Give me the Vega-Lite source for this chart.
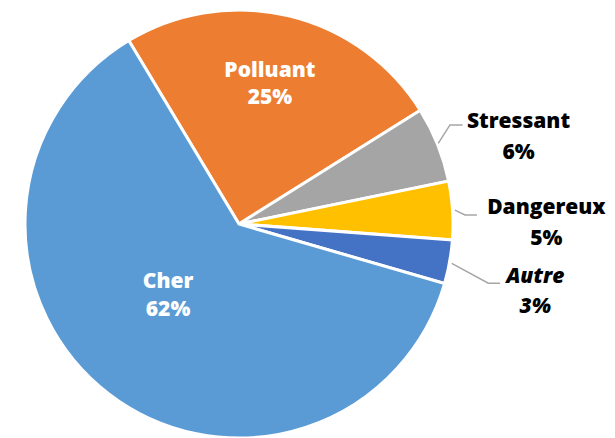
{
  "$schema": "https://vega.github.io/schema/vega-lite/v6.json",
  "autosize": {"type": "none"},
  "width": 428,
  "height": 428,
  "padding": {"left": 25, "top": 10, "right": 162, "bottom": 0},
  "background": "white",
  "config": {"view": {"stroke": null}, "text": {"font": "Open Sans"}},
  "datasets": {
    "slices": [
      {"cat": "Polluant", "label": "Polluant\n25%", "value": 24.7, "ord": 1},
      {"cat": "Stressant", "label": "Stressant\n6%", "value": 5.7, "ord": 2},
      {"cat": "Dangereux", "label": "Dangereux\n5%", "value": 4.4, "ord": 3},
      {"cat": "Autre", "label": "Autre\n3%", "value": 3.3, "ord": 4},
      {"cat": "Cher", "label": "Cher\n62%", "value": 61.9, "ord": 5}
    ],
    "leaders": [
      {"cat": "Stressant", "pt": 1, "x": 0.931, "y": 0.377},
      {"cat": "Stressant", "pt": 2, "x": 0.986, "y": 0.463},
      {"cat": "Stressant", "pt": 3, "x": 1.045, "y": 0.463},
      {"cat": "Dangereux", "pt": 1, "x": 1.009, "y": 0.065},
      {"cat": "Dangereux", "pt": 2, "x": 1.056, "y": 0.042},
      {"cat": "Dangereux", "pt": 3, "x": 1.112, "y": 0.042},
      {"cat": "Autre", "pt": 1, "x": 0.994, "y": -0.184},
      {"cat": "Autre", "pt": 2, "x": 1.165, "y": -0.277},
      {"cat": "Autre", "pt": 3, "x": 1.22, "y": -0.277}
    ]
  },
  "layer": [
    {
      "data": {"name": "slices"},
      "mark": {"type": "arc", "outerRadius": 214, "stroke": "white", "strokeWidth": 3},
      "encoding": {
        "theta": {"field": "value", "type": "quantitative", "stack": true, "scale": {"range": [-0.5411, 5.7421]}},
        "order": {"field": "ord", "type": "quantitative"},
        "color": {"field": "cat", "type": "nominal", "legend": null,
          "scale": {"domain": ["Polluant", "Stressant", "Dangereux", "Autre", "Cher"],
                    "range": ["#ED7D31", "#A5A5A5", "#FFC000", "#4472C4", "#5B9BD5"]}}
      }
    },
    {
      "data": {"name": "leaders"},
      "mark": {"type": "line", "color": "#A6A6A6", "strokeWidth": 1.5},
      "encoding": {
        "x": {"field": "x", "type": "quantitative", "scale": {"domain": [-1, 1]}, "axis": null},
        "y": {"field": "y", "type": "quantitative", "scale": {"domain": [-1, 1]}, "axis": null},
        "detail": {"field": "cat"},
        "order": {"field": "pt", "type": "quantitative"}
      }
    },
    {
      "data": {"name": "slices"},
      "mark": {"type": "text", "radius": 150, "dx": -4, "dy": -1, "fontSize": 21, "fontWeight": 800, "lineBreak": "\n", "lineHeight": 27, "fill": "white", "align": "center", "baseline": "alphabetic"},
      "encoding": {
        "theta": {"field": "value", "type": "quantitative", "stack": true},
        "order": {"field": "ord", "type": "quantitative"},
        "text": {"condition": {"test": "datum.cat === 'Polluant'", "field": "label"}, "value": ""}
      }
    },
    {
      "data": {"name": "slices"},
      "mark": {"type": "text", "radius": 95, "dx": -13, "dy": -11, "fontSize": 21, "fontWeight": 800, "lineBreak": "\n", "lineHeight": 28, "fill": "white", "align": "center", "baseline": "alphabetic"},
      "encoding": {
        "theta": {"field": "value", "type": "quantitative", "stack": true},
        "order": {"field": "ord", "type": "quantitative"},
        "text": {"condition": {"test": "datum.cat === 'Cher'", "field": "label"}, "value": ""}
      }
    },
    {
      "data": {"name": "slices"},
      "mark": {"type": "text", "radius": 300, "dx": 1, "dy": 16, "fontSize": 21, "fontWeight": 800, "lineBreak": "\n", "lineHeight": 31, "fill": "black", "align": "center", "baseline": "alphabetic"},
      "encoding": {
        "theta": {"field": "value", "type": "quantitative", "stack": true},
        "order": {"field": "ord", "type": "quantitative"},
        "text": {"condition": {"test": "datum.cat === 'Stressant'", "field": "label"}, "value": ""}
      }
    },
    {
      "data": {"name": "slices"},
      "mark": {"type": "text", "radius": 307, "dx": 1, "dy": 10, "fontSize": 21, "fontWeight": 800, "lineBreak": "\n", "lineHeight": 31, "fill": "black", "align": "center", "baseline": "alphabetic"},
      "encoding": {
        "theta": {"field": "value", "type": "quantitative", "stack": true},
        "order": {"field": "ord", "type": "quantitative"},
        "text": {"condition": {"test": "datum.cat === 'Dangereux'", "field": "label"}, "value": ""}
      }
    },
    {
      "data": {"name": "slices"},
      "mark": {"type": "text", "radius": 300, "dx": 1, "dy": 6, "fontSize": 21, "fontWeight": 800, "fontStyle": "italic", "lineBreak": "\n", "lineHeight": 30, "fill": "black", "align": "center", "baseline": "alphabetic"},
      "encoding": {
        "theta": {"field": "value", "type": "quantitative", "stack": true},
        "order": {"field": "ord", "type": "quantitative"},
        "text": {"condition": {"test": "datum.cat === 'Autre'", "field": "label"}, "value": ""}
      }
    }
  ]
}
